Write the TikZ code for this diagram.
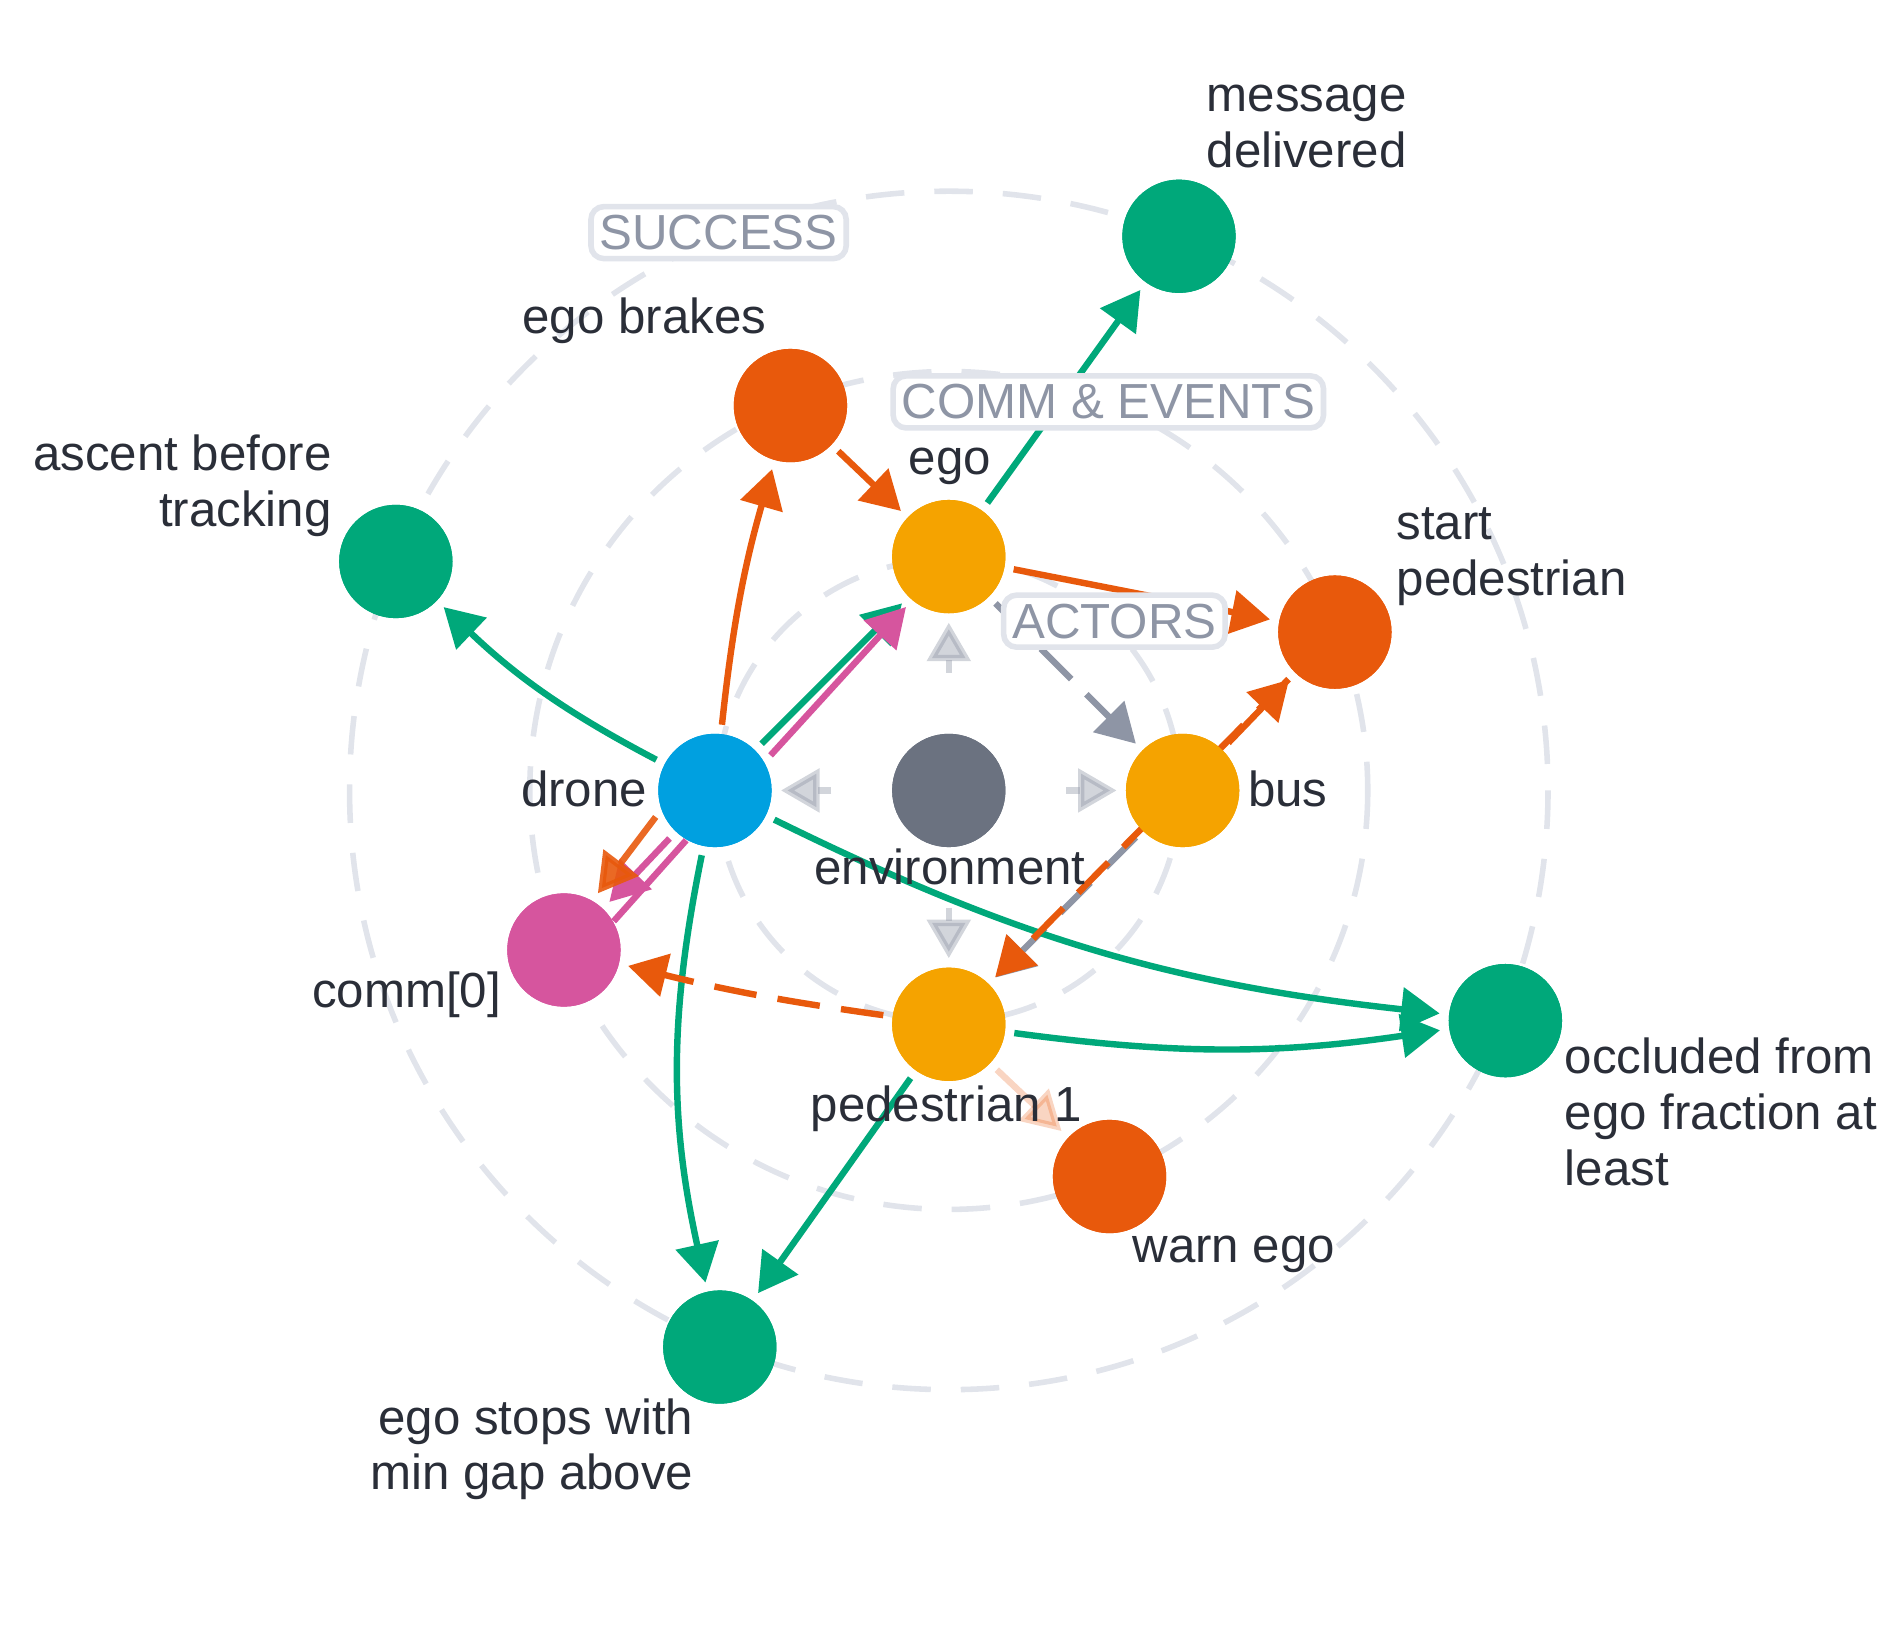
\documentclass[tikz,border=0pt]{standalone}
\usepackage{fontspec}
\setmainfont{Liberation Sans}
\usetikzlibrary{arrows.meta}
\definecolor{cg}{HTML}{00A87A}
\definecolor{co}{HTML}{E8590C}
\definecolor{cy}{HTML}{F5A300}
\definecolor{cb}{HTML}{00A0E0}
\definecolor{cp}{HTML}{D6559E}
\definecolor{cn}{HTML}{6B7280}
\definecolor{ce}{HTML}{8E95A5}
\definecolor{cr}{HTML}{E1E4EB}
\definecolor{ct}{HTML}{2A2E38}
\begin{document}
\begin{tikzpicture}[x=0.01cm,y=-0.01cm,
  nd/.style={circle,minimum size=0.93cm,inner sep=0pt},
  lb/.style={font=\fontsize{11.5}{13}\selectfont,text=ct,inner sep=0pt},
  ring/.style={cr,line width=1.3pt,dash pattern=on 9pt off 7pt},
  tag/.style={draw=cr,line width=1.3pt,rounded corners=3pt,fill=white,text=ce,font=\fontsize{11.5}{13}\selectfont,inner sep=2pt},
  e/.style={line width=1.5pt,-{Triangle[length=9pt,width=10pt]},shorten >=2pt,shorten <=2pt},
  dsh/.style={dash pattern=on 10pt off 5pt}]
\useasboundingbox (0,0) rectangle (1560,1334);
\coordinate (c) at (779,649);
\draw[ring] (c) circle (190);
\draw[ring] (c) circle (344);
\draw[ring] (c) circle (492);
% nodes
\node[nd,fill=cn] (env) at (779,649) {};
\node[nd,fill=cy] (ego) at (779,457) {};
\node[nd,fill=cy] (bus) at (971,649) {};
\node[nd,fill=cy] (ped) at (779,841) {};
\node[nd,fill=cb] (drone) at (587,649) {};
\node[nd,fill=co] (brakes) at (649,333) {};
\node[nd,fill=co] (startp) at (1096,519) {};
\node[nd,fill=cp] (comm) at (463,780) {};
\node[nd,fill=co] (warn) at (911,966) {};
\node[nd,fill=cg] (msg) at (968,194) {};
\node[nd,fill=cg] (asc) at (325,461) {};
\node[nd,fill=cg] (occ) at (1236,838) {};
\node[nd,fill=cg] (stops) at (591,1106) {};
% edges
\begin{scope}[on background layer/.style={}]
\draw[e,ce,opacity=0.4,shorten <=14pt] (env) -- (ego);
\draw[e,ce,opacity=0.4,shorten <=14pt] (env) -- (drone);
\draw[e,ce,opacity=0.4,shorten <=14pt] (env) -- (bus);
\draw[e,ce,opacity=0.4,shorten <=14pt] (env) -- (ped);
\draw[e,ce,dsh] (ego) -- (bus);
\draw[e,ce,dsh] (bus) -- (ped);
\draw[e,cg] (drone) to[bend left=8] (asc);
\draw[e,co] (drone) to[bend left=5] (brakes);
\draw[e,cg] (drone) -- (ego);
\draw[e,cp] (drone.30) -- (ego.230);
\draw[e,cp] (drone) -- (comm);
\draw[e,co,opacity=0.9] (drone.200) -- (comm.60);
\draw[cp,line width=1.5pt] (comm.30) -- (drone.240);
\draw[e,cg] (drone) to[bend right=12] (stops);
\draw[e,cg] (drone) to[bend right=10] (occ);
\draw[e,cg] (ped) to[bend right=8] (occ);
\draw[e,cg] (ped) -- (stops);
\draw[e,cg] (ego) -- (msg);
\draw[e,co] (brakes) -- (ego);
\draw[e,co] (ego) -- (startp);
\draw[e,co] (bus) -- (startp);
\draw[e,co,dsh] (startp) -- (ped);
\draw[e,co,dsh] (ped) to[bend left=3] (comm);
\draw[e,co,opacity=0.25] (ped) -- (warn);
\end{scope}
% redraw nodes on top
\foreach \n/\col in {env/cn,ego/cy,bus/cy,ped/cy,drone/cb,brakes/co,startp/co,comm/cp,warn/co,msg/cg,asc/cg,occ/cg,stops/cg}
  \fill[\col] (\n) circle (0.465cm);
% tags
\node[tag] (t1) at (590,191) {SUCCESS};
\node[tag] (t2) at (910,330) {COMM \& EVENTS};
\node[tag] (t3) at (915,510) {ACTORS};
% labels
\node[lb,anchor=west,align=left] (l1) at (990,104) {message\\delivered};
\node[lb] (l2) at (529,263) {ego brakes};
\node[lb,anchor=east,align=right] (l3) at (273,399) {ascent before\\tracking};
\node[lb] (l4) at (780,383) {ego};
\node[lb,anchor=west,align=left] (l5) at (1146,457) {start\\pedestrian};
\node[lb,anchor=east] (l6) at (532,648) {drone};
\node[lb,anchor=west] (l7) at (1024,648) {bus};
\node[lb] (l8) at (780,712) {environment};
\node[lb,anchor=east] (l9) at (412,817) {comm[0]};
\node[lb] (l10) at (777,910) {pedestrian 1};
\node[lb,anchor=west,align=left] (l11) at (1284,913) {occluded from\\ego fraction at\\least};
\node[lb] (l12) at (1013,1030) {warn ego};
\node[lb,anchor=east,align=right] (l13) at (570,1190) {ego stops with\\min gap above};
\end{tikzpicture}
\end{document}
